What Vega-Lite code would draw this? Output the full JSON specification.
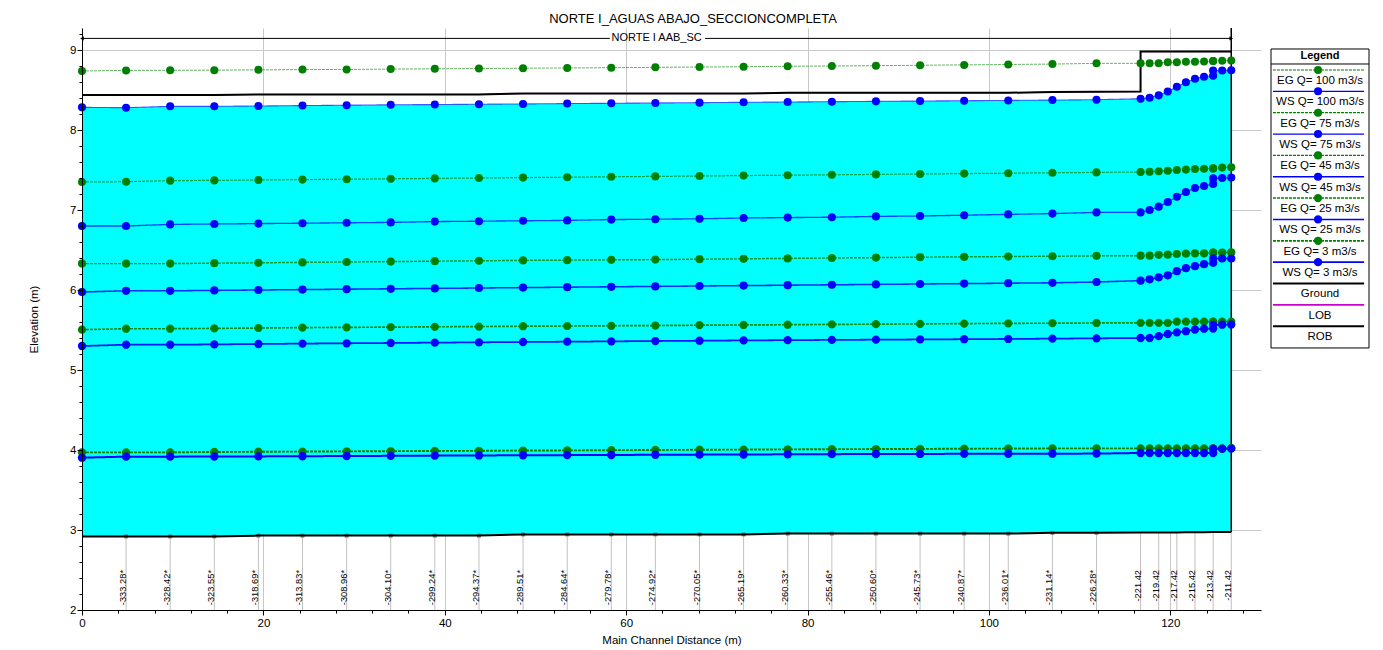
{
  "$schema": "https://vega.github.io/schema/vega-lite/v6.json",
  "padding": {"left": 28, "top": 13, "right": 0, "bottom": 0},
  "background": "white",
  "config": {"font": "Liberation Sans", "view": {"stroke": null}},
  "title": {"text": "NORTE I_AGUAS ABAJO_SECCIONCOMPLETA", "fontSize": 13, "fontWeight": "normal", "font": "Liberation Sans", "color": "black", "anchor": "middle", "offset": 1, "dx": -6},
  "spacing": 9,
  "datasets": {
    "xs": [
      {"i":0,"d":0,"lab":null,"interp":false,"ground":2.92,"eg100":8.738,"ws100":8.283,"eg75":7.35,"ws75":6.80,"eg45":6.33,"ws45":5.975,"eg25":5.504,"ws25":5.30,"eg3":3.971,"ws3":3.904},
      {"i":1,"d":4.86,"lab":"-333.28*","interp":true,"ground":2.92,"eg100":8.745,"ws100":8.279,"eg75":7.354,"ws75":6.80,"eg45":6.33,"ws45":5.99,"eg25":5.516,"ws25":5.316,"eg3":3.971,"ws3":3.917},
      {"i":2,"d":9.72,"lab":"-328.42*","interp":true,"ground":2.92,"eg100":8.746,"ws100":8.296,"eg75":7.367,"ws75":6.82,"eg45":6.33,"ws45":5.99,"eg25":5.516,"ws25":5.316,"eg3":3.971,"ws3":3.917},
      {"i":3,"d":14.59,"lab":"-323.55*","interp":true,"ground":2.92,"eg100":8.748,"ws100":8.296,"eg75":7.37,"ws75":6.825,"eg45":6.335,"ws45":5.995,"eg25":5.52,"ws25":5.32,"eg3":3.975,"ws3":3.918},
      {"i":4,"d":19.45,"lab":"-318.69*","interp":true,"ground":2.93,"eg100":8.752,"ws100":8.30,"eg75":7.375,"ws75":6.83,"eg45":6.34,"ws45":6.00,"eg25":5.525,"ws25":5.325,"eg3":3.978,"ws3":3.92},
      {"i":5,"d":24.31,"lab":"-313.83*","interp":true,"ground":2.93,"eg100":8.755,"ws100":8.305,"eg75":7.38,"ws75":6.835,"eg45":6.345,"ws45":6.005,"eg25":5.53,"ws25":5.33,"eg3":3.98,"ws3":3.922},
      {"i":6,"d":29.18,"lab":"-308.96*","interp":true,"ground":2.93,"eg100":8.757,"ws100":8.31,"eg75":7.385,"ws75":6.84,"eg45":6.35,"ws45":6.01,"eg25":5.533,"ws25":5.334,"eg3":3.983,"ws3":3.925},
      {"i":7,"d":34.04,"lab":"-304.10*","interp":true,"ground":2.93,"eg100":8.761,"ws100":8.315,"eg75":7.39,"ws75":6.845,"eg45":6.355,"ws45":6.015,"eg25":5.536,"ws25":5.338,"eg3":3.985,"ws3":3.927},
      {"i":8,"d":38.90,"lab":"-299.24*","interp":true,"ground":2.93,"eg100":8.765,"ws100":8.318,"eg75":7.395,"ws75":6.855,"eg45":6.36,"ws45":6.02,"eg25":5.54,"ws25":5.342,"eg3":3.988,"ws3":3.93},
      {"i":9,"d":43.77,"lab":"-294.37*","interp":true,"ground":2.93,"eg100":8.768,"ws100":8.322,"eg75":7.40,"ws75":6.86,"eg45":6.365,"ws45":6.025,"eg25":5.543,"ws25":5.346,"eg3":3.99,"ws3":3.932},
      {"i":10,"d":48.63,"lab":"-289.51*","interp":true,"ground":2.945,"eg100":8.772,"ws100":8.326,"eg75":7.405,"ws75":6.865,"eg45":6.37,"ws45":6.03,"eg25":5.547,"ws25":5.35,"eg3":3.993,"ws3":3.934},
      {"i":11,"d":53.50,"lab":"-284.64*","interp":true,"ground":2.945,"eg100":8.776,"ws100":8.33,"eg75":7.41,"ws75":6.87,"eg45":6.373,"ws45":6.035,"eg25":5.55,"ws25":5.354,"eg3":3.995,"ws3":3.936},
      {"i":12,"d":58.36,"lab":"-279.78*","interp":true,"ground":2.945,"eg100":8.779,"ws100":8.334,"eg75":7.415,"ws75":6.88,"eg45":6.377,"ws45":6.04,"eg25":5.553,"ws25":5.358,"eg3":3.998,"ws3":3.938},
      {"i":13,"d":63.22,"lab":"-274.92*","interp":true,"ground":2.945,"eg100":8.783,"ws100":8.338,"eg75":7.42,"ws75":6.885,"eg45":6.38,"ws45":6.045,"eg25":5.556,"ws25":5.362,"eg3":4.0,"ws3":3.94},
      {"i":14,"d":68.09,"lab":"-270.05*","interp":true,"ground":2.945,"eg100":8.787,"ws100":8.342,"eg75":7.425,"ws75":6.89,"eg45":6.385,"ws45":6.05,"eg25":5.56,"ws25":5.366,"eg3":4.003,"ws3":3.942},
      {"i":15,"d":72.95,"lab":"-265.19*","interp":true,"ground":2.945,"eg100":8.791,"ws100":8.346,"eg75":7.43,"ws75":6.90,"eg45":6.39,"ws45":6.055,"eg25":5.563,"ws25":5.37,"eg3":4.005,"ws3":3.944},
      {"i":16,"d":77.81,"lab":"-260.33*","interp":true,"ground":2.955,"eg100":8.796,"ws100":8.35,"eg75":7.435,"ws75":6.905,"eg45":6.395,"ws45":6.06,"eg25":5.566,"ws25":5.373,"eg3":4.008,"ws3":3.946},
      {"i":17,"d":82.68,"lab":"-255.46*","interp":true,"ground":2.955,"eg100":8.80,"ws100":8.354,"eg75":7.44,"ws75":6.91,"eg45":6.40,"ws45":6.065,"eg25":5.57,"ws25":5.376,"eg3":4.01,"ws3":3.948},
      {"i":18,"d":87.54,"lab":"-250.60*","interp":true,"ground":2.955,"eg100":8.804,"ws100":8.358,"eg75":7.445,"ws75":6.92,"eg45":6.405,"ws45":6.07,"eg25":5.573,"ws25":5.379,"eg3":4.012,"ws3":3.95},
      {"i":19,"d":92.41,"lab":"-245.73*","interp":true,"ground":2.955,"eg100":8.809,"ws100":8.362,"eg75":7.45,"ws75":6.925,"eg45":6.41,"ws45":6.075,"eg25":5.576,"ws25":5.382,"eg3":4.014,"ws3":3.951},
      {"i":20,"d":97.27,"lab":"-240.87*","interp":true,"ground":2.955,"eg100":8.814,"ws100":8.366,"eg75":7.455,"ws75":6.935,"eg45":6.414,"ws45":6.08,"eg25":5.58,"ws25":5.385,"eg3":4.016,"ws3":3.952},
      {"i":21,"d":102.13,"lab":"-236.01*","interp":true,"ground":2.955,"eg100":8.819,"ws100":8.37,"eg75":7.46,"ws75":6.945,"eg45":6.418,"ws45":6.085,"eg25":5.583,"ws25":5.388,"eg3":4.018,"ws3":3.953},
      {"i":22,"d":107.00,"lab":"-231.14*","interp":true,"ground":2.965,"eg100":8.824,"ws100":8.374,"eg75":7.465,"ws75":6.955,"eg45":6.422,"ws45":6.09,"eg25":5.585,"ws25":5.392,"eg3":4.02,"ws3":3.954},
      {"i":23,"d":111.86,"lab":"-226.28*","interp":true,"ground":2.965,"eg100":8.833,"ws100":8.379,"eg75":7.47,"ws75":6.97,"eg45":6.427,"ws45":6.10,"eg25":5.588,"ws25":5.396,"eg3":4.021,"ws3":3.955},
      {"i":24,"d":116.72,"lab":"-221.42","interp":false,"ground":2.97,"eg100":8.833,"ws100":8.391,"eg75":7.475,"ws75":6.97,"eg45":6.429,"ws45":6.117,"eg25":5.59,"ws25":5.40,"eg3":4.021,"ws3":3.963},
      {"i":25,"d":117.72,"lab":null,"interp":false,"ground":2.97,"eg100":8.833,"ws100":8.404,"eg75":7.477,"ws75":7.00,"eg45":6.429,"ws45":6.133,"eg25":5.59,"ws25":5.40,"eg3":4.021,"ws3":3.963},
      {"i":26,"d":118.72,"lab":"-219.42","interp":false,"ground":2.97,"eg100":8.835,"ws100":8.433,"eg75":7.485,"ws75":7.042,"eg45":6.44,"ws45":6.158,"eg25":5.59,"ws25":5.423,"eg3":4.021,"ws3":3.963},
      {"i":27,"d":119.72,"lab":null,"interp":false,"ground":2.97,"eg100":8.846,"ws100":8.481,"eg75":7.49,"ws75":7.10,"eg45":6.442,"ws45":6.183,"eg25":5.59,"ws25":5.45,"eg3":4.021,"ws3":3.963},
      {"i":28,"d":120.72,"lab":"-217.42","interp":false,"ground":2.97,"eg100":8.846,"ws100":8.541,"eg75":7.50,"ws75":7.165,"eg45":6.45,"ws45":6.235,"eg25":5.604,"ws25":5.471,"eg3":4.021,"ws3":3.963},
      {"i":29,"d":121.72,"lab":null,"interp":false,"ground":2.972,"eg100":8.852,"ws100":8.596,"eg75":7.505,"ws75":7.225,"eg45":6.456,"ws45":6.273,"eg25":5.604,"ws25":5.485,"eg3":4.021,"ws3":3.963},
      {"i":30,"d":122.72,"lab":"-215.42","interp":false,"ground":2.972,"eg100":8.854,"ws100":8.641,"eg75":7.512,"ws75":7.275,"eg45":6.458,"ws45":6.298,"eg25":5.604,"ws25":5.506,"eg3":4.021,"ws3":3.963},
      {"i":31,"d":123.72,"lab":null,"interp":false,"ground":2.972,"eg100":8.856,"ws100":8.666,"eg75":7.515,"ws75":7.30,"eg45":6.458,"ws45":6.323,"eg25":5.604,"ws25":5.516,"eg3":4.021,"ws3":3.963},
      {"i":32,"d":124.72,"lab":"-213.42","interp":false,"ground":2.975,"eg100":8.862,"ws100":8.679,"eg75":7.52,"ws75":7.325,"eg45":6.467,"ws45":6.34,"eg25":5.604,"ws25":5.518,"eg3":4.021,"ws3":3.963},
      {"i":33,"d":124.72,"lab":null,"interp":false,"ground":2.975,"eg100":8.862,"ws100":8.743,"eg75":7.52,"ws75":7.395,"eg45":6.467,"ws45":6.392,"eg25":5.604,"ws25":5.565,"eg3":4.021,"ws3":4.015},
      {"i":34,"d":125.72,"lab":null,"interp":false,"ground":2.975,"eg100":8.865,"ws100":8.745,"eg75":7.53,"ws75":7.40,"eg45":6.469,"ws45":6.394,"eg25":5.604,"ws25":5.566,"eg3":4.021,"ws3":4.015},
      {"i":35,"d":126.72,"lab":"-211.42","interp":false,"ground":2.975,"eg100":8.87,"ws100":8.746,"eg75":7.535,"ws75":7.405,"eg45":6.471,"ws45":6.394,"eg25":5.604,"ws25":5.568,"eg3":4.025,"ws3":4.017}
    ],
    "rob": [
      {"o":0,"d":0,"e":8.437},{"o":1,"d":14.59,"e":8.437},{"o":2,"d":19.45,"e":8.445},{"o":3,"d":43.77,"e":8.445},
      {"o":4,"d":48.63,"e":8.455},{"o":5,"d":72.95,"e":8.455},{"o":6,"d":77.81,"e":8.465},{"o":7,"d":102.13,"e":8.465},
      {"o":8,"d":107.0,"e":8.475},{"o":9,"d":116.72,"e":8.48},{"o":10,"d":116.72,"e":8.98},{"o":11,"d":126.72,"e":8.98}
    ],
    "reach": [{"x1":0,"x2":58.2},{"x1":68.7,"x2":126.72}],
    "ends": [{"d":0,"dir":"left"},{"d":126.72,"dir":"right"}],
    "leg": [
      {"k":0,"key":"eg100","label":"EG Q= 100 m3/s"},
      {"k":1,"key":"ws100","label":"WS Q= 100 m3/s"},
      {"k":2,"key":"eg75","label":"EG Q= 75 m3/s"},
      {"k":3,"key":"ws75","label":"WS Q= 75 m3/s"},
      {"k":4,"key":"eg45","label":"EG Q= 45 m3/s"},
      {"k":5,"key":"ws45","label":"WS Q= 45 m3/s"},
      {"k":6,"key":"eg25","label":"EG Q= 25 m3/s"},
      {"k":7,"key":"ws25","label":"WS Q= 25 m3/s"},
      {"k":8,"key":"eg3","label":"EG Q= 3 m3/s"},
      {"k":9,"key":"ws3","label":"WS Q= 3 m3/s"},
      {"k":10,"key":"ground","label":"Ground"},
      {"k":11,"key":"lob","label":"LOB"},
      {"k":12,"key":"rob","label":"ROB"}
    ]
  },
  "resolve": {"scale": {"color": "independent", "size": "independent", "strokeWidth": "independent", "strokeDash": "independent", "strokeOpacity": "independent", "x": "independent", "y": "independent", "shape": "independent"}},
  "hconcat": [
    {
      "width": 1179,
      "height": 582,
      "resolve": {"axis": {"x": "independent", "y": "independent"}},
      "layer": [
        {
          "data": {"name": "xs"},
          "mark": {"type": "rule", "strokeOpacity": 0},
          "encoding": {
            "x": {"field": "d", "type": "quantitative", "scale": {"domain": [0, 130], "nice": false, "zero": false},
              "axis": {"orient": "bottom", "values": [0,20,40,60,80,100,120], "grid": true, "gridColor": "#C8C8C8", "gridWidth": 1, "ticks": false, "labels": false, "domain": false, "title": null, "zindex": 0}},
            "y": {"field": "ground", "type": "quantitative", "scale": {"domain": [2, 9.275], "nice": false, "zero": false},
              "axis": {"orient": "left", "values": [2,3,4,5,6,7,8,9], "grid": true, "gridColor": "#C8C8C8", "gridWidth": 1, "ticks": false, "labels": false, "domain": false, "title": null, "zindex": 0}}
          }
        },
        {
          "data": {"name": "xs"},
          "mark": {"type": "area", "fill": "#00FFFF", "fillOpacity": 1},
          "encoding": {
            "x": {"field": "d", "type": "quantitative", "axis": null},
            "y": {"field": "ws100", "type": "quantitative", "axis": null},
            "y2": {"field": "ground"}
          }
        },
        {
          "data": {"name": "xs"},
          "transform": [{"filter": "datum.lab != null"}],
          "mark": {"type": "rule", "color": "#C0C0C0", "strokeWidth": 1},
          "encoding": {
            "x": {"field": "d", "type": "quantitative",
              "axis": {"orient": "bottom", "values": [0,4,8,12,16,20,24,28,32,36,40,44,48,52,56,60,64,68,72,76,80,84,88,92,96,100,104,108,112,116,120,124,128], "grid": false, "labels": false, "domain": false, "ticks": true, "tickSize": 3, "tickColor": "black", "title": null, "zindex": 1}},
            "y": {"field": "ground", "type": "quantitative",
              "axis": {"orient": "left", "values": [2,2.2,2.4,2.6,2.8,3,3.2,3.4,3.6,3.8,4,4.2,4.4,4.6,4.8,5,5.2,5.4,5.6,5.8,6,6.2,6.4,6.6,6.8,7,7.2,7.4,7.6,7.8,8,8.2,8.4,8.6,8.8,9,9.2], "grid": false, "labels": false, "domain": false, "ticks": true, "tickSize": 3, "tickColor": "black", "title": null, "zindex": 1}},
            "y2": {"datum": 2}
          }
        },
        {
          "data": {"name": "xs"},
          "transform": [{"filter": "datum.interp"}],
          "mark": {"type": "point", "shape": "square", "filled": true, "color": "#808080", "opacity": 1, "size": 16},
          "encoding": {
            "x": {"field": "d", "type": "quantitative", "axis": null},
            "y": {"field": "ground", "type": "quantitative", "axis": null}
          }
        },
        {
          "data": {"name": "xs"},
          "mark": {"type": "line", "color": "black", "strokeWidth": 2},
          "encoding": {
            "x": {"field": "d", "type": "quantitative",
              "axis": {"orient": "bottom", "values": [0,20,40,60,80,100,120], "grid": false, "domain": true, "domainColor": "black", "ticks": true, "tickSize": 5, "tickColor": "black", "labels": true, "labelColor": "black", "labelFontSize": 11.5, "labelPadding": 2, "labelFlush": false, "title": "Main Channel Distance (m)", "titleFontSize": 11.5, "titleFontWeight": "normal", "titleColor": "black", "titlePadding": 6, "zindex": 1}},
            "y": {"field": "ground", "type": "quantitative",
              "axis": {"orient": "left", "values": [2,3,4,5,6,7,8,9], "grid": false, "domain": true, "domainColor": "black", "ticks": true, "tickSize": 5, "tickColor": "black", "labels": true, "labelColor": "black", "labelFontSize": 11.5, "labelPadding": 1, "title": "Elevation (m)", "titleFontSize": 11.5, "titleFontWeight": "normal", "titleColor": "black", "titlePadding": 30, "zindex": 1}},
            "order": {"field": "i"}
          }
        },
        {
          "data": {"name": "rob"},
          "mark": {"type": "line", "color": "#CC00CC", "strokeWidth": 1},
          "encoding": {
            "x": {"field": "d", "type": "quantitative", "axis": null},
            "y": {"field": "e", "type": "quantitative", "axis": null},
            "order": {"field": "o"}
          }
        },
        {
          "data": {"name": "rob"},
          "mark": {"type": "line", "color": "black", "strokeWidth": 2},
          "encoding": {
            "x": {"field": "d", "type": "quantitative", "axis": null},
            "y": {"field": "e", "type": "quantitative", "axis": null},
            "order": {"field": "o"}
          }
        },
        {
          "data": {"name": "xs"},
          "transform": [{"filter": "datum.i == 35"}],
          "mark": {"type": "rule", "color": "black", "strokeWidth": 1.5},
          "encoding": {
            "x": {"field": "d", "type": "quantitative", "axis": null},
            "y": {"field": "ground", "type": "quantitative", "axis": null},
            "y2": {"datum": 9.275}
          }
        },
        {
          "data": {"name": "xs"},
          "transform": [{"fold": ["eg100","ws100","eg75","ws75","eg45","ws45","eg25","ws25","eg3","ws3"], "as": ["series", "elev"]}],
          "mark": {"type": "line"},
          "encoding": {
            "x": {"field": "d", "type": "quantitative", "axis": null},
            "y": {"field": "elev", "type": "quantitative", "axis": null},
            "color": {"field": "series", "type": "nominal", "legend": null,
              "scale": {"domain": ["eg100","ws100","eg75","ws75","eg45","ws45","eg25","ws25","eg3","ws3"],
                        "range": ["#008000","#0000FF","#008000","#0000FF","#008000","#0000FF","#008000","#0000FF","#008000","#0000FF"]}},
            "strokeWidth": {"field": "series", "type": "nominal", "legend": null,
              "scale": {"domain": ["eg100","ws100","eg75","ws75","eg45","ws45","eg25","ws25","eg3","ws3"],
                        "range": [1,2,1,2,1,2,1,2,1,2]}},
            "strokeOpacity": {"field": "series", "type": "nominal", "legend": null,
              "scale": {"domain": ["eg100","ws100","eg75","ws75","eg45","ws45","eg25","ws25","eg3","ws3"],
                        "range": [0.6,1,0.6,1,0.6,1,0.6,1,0.6,1]}},
            "strokeDash": {"field": "series", "type": "nominal", "legend": null,
              "scale": {"domain": ["eg100","ws100","eg75","ws75","eg45","ws45","eg25","ws25","eg3","ws3"],
                        "range": [[3,1],[1,0],[3,1],[1,0],[3,1],[1,0],[3,1],[1,0],[3,1],[1,0]]}},
            "order": {"field": "i"}
          }
        },
        {
          "data": {"name": "xs"},
          "transform": [{"fold": ["eg100","ws100","eg75","ws75","eg45","ws45","eg25","ws25","eg3","ws3"], "as": ["series", "elev"]}],
          "mark": {"type": "circle", "opacity": 1},
          "encoding": {
            "x": {"field": "d", "type": "quantitative", "axis": null},
            "y": {"field": "elev", "type": "quantitative", "axis": null},
            "color": {"field": "series", "type": "nominal", "legend": null,
              "scale": {"domain": ["eg100","ws100","eg75","ws75","eg45","ws45","eg25","ws25","eg3","ws3"],
                        "range": ["#008000","#0000FF","#008000","#0000FF","#008000","#0000FF","#008000","#0000FF","#008000","#0000FF"]}},
            "size": {"field": "series", "type": "nominal", "legend": null,
              "scale": {"domain": ["eg100","ws100","eg75","ws75","eg45","ws45","eg25","ws25","eg3","ws3"],
                        "range": [64,70,58,66,30,32,11,11,13,11]}}
          }
        },
        {
          "data": {"name": "reach"},
          "mark": {"type": "rule", "color": "black", "strokeWidth": 1},
          "encoding": {
            "x": {"field": "x1", "type": "quantitative", "axis": null},
            "x2": {"field": "x2"},
            "y": {"datum": 9.145, "type": "quantitative", "axis": null}
          }
        },
        {
          "data": {"name": "ends"},
          "mark": {"type": "point", "filled": true, "color": "black", "opacity": 1, "size": 18},
          "encoding": {
            "x": {"field": "d", "type": "quantitative", "axis": null},
            "y": {"datum": 9.145, "type": "quantitative", "axis": null},
            "shape": {"field": "dir", "type": "nominal", "legend": null, "scale": {"domain": ["left","right"], "range": ["triangle-left","triangle-right"]}}
          }
        },
        {
          "data": {"values": [{"name": "NORTE I AAB_SC", "mid": 63.36}]},
          "mark": {"type": "text", "fontSize": 11, "color": "black", "baseline": "middle", "align": "center"},
          "encoding": {
            "x": {"field": "mid", "type": "quantitative", "axis": null},
            "y": {"datum": 9.145, "type": "quantitative", "axis": null},
            "text": {"field": "name"}
          }
        },
        {
          "data": {"name": "xs"},
          "transform": [{"filter": "datum.lab != null"}],
          "mark": {"type": "text", "angle": 270, "align": "right", "baseline": "alphabetic", "fontSize": 9.3, "color": "black", "dy": 0},
          "encoding": {
            "x": {"field": "d", "type": "quantitative", "axis": null},
            "y": {"datum": 2.5, "type": "quantitative", "axis": null},
            "text": {"field": "lab"}
          }
        }
      ]
    },
    {
      "width": 98,
      "height": 582,
      "layer": [
        {
          "data": {"values": [{}]},
          "mark": {"type": "rect", "fill": "white", "stroke": "black", "strokeWidth": 1},
          "encoding": {
            "x": {"datum": 0, "type": "quantitative", "scale": {"domain": [0, 1], "nice": false, "zero": false}, "axis": null},
            "x2": {"datum": 1},
            "y": {"datum": -0.984, "type": "quantitative", "scale": {"domain": [-1.967, 25.293], "nice": false, "zero": false, "reverse": true}, "axis": null},
            "y2": {"datum": 13.02}
          }
        },
        {
          "data": {"values": [{}]},
          "mark": {"type": "rule", "color": "black", "strokeWidth": 1},
          "encoding": {
            "x": {"datum": 0, "type": "quantitative"},
            "x2": {"datum": 1},
            "y": {"datum": -0.281, "type": "quantitative"}
          }
        },
        {
          "data": {"values": [{"t": "Legend"}]},
          "mark": {"type": "text", "fontSize": 11, "fontWeight": "bold", "color": "black", "align": "center", "baseline": "middle"},
          "encoding": {
            "x": {"datum": 0.5, "type": "quantitative"},
            "y": {"datum": -0.656, "type": "quantitative"},
            "text": {"field": "t"}
          }
        },
        {
          "data": {"name": "leg"},
          "mark": {"type": "rule"},
          "encoding": {
            "x": {"datum": 0.02, "type": "quantitative"},
            "x2": {"datum": 0.95},
            "y": {"field": "k", "type": "quantitative"},
            "color": {"field": "key", "type": "nominal", "legend": null,
              "scale": {"domain": ["eg100","ws100","eg75","ws75","eg45","ws45","eg25","ws25","eg3","ws3","ground","lob","rob"],
                        "range": ["#008000","#0000FF","#008000","#0000FF","#008000","#0000FF","#008000","#0000FF","#008000","#0000FF","#000000","#CC00CC","#000000"]}},
            "strokeWidth": {"field": "key", "type": "nominal", "legend": null,
              "scale": {"domain": ["eg100","ws100","eg75","ws75","eg45","ws45","eg25","ws25","eg3","ws3","ground","lob","rob"],
                        "range": [1,2,1,2,1,2,1,2,1,2,2,1,2]}},
            "strokeDash": {"field": "key", "type": "nominal", "legend": null,
              "scale": {"domain": ["eg100","ws100","eg75","ws75","eg45","ws45","eg25","ws25","eg3","ws3","ground","lob","rob"],
                        "range": [[3,1],[1,0],[3,1],[1,0],[3,1],[1,0],[3,1],[1,0],[3,1],[1,0],[1,0],[1,0],[1,0]]}}
          }
        },
        {
          "data": {"name": "leg"},
          "transform": [{"filter": "datum.k < 10"}],
          "mark": {"type": "circle", "opacity": 1},
          "encoding": {
            "x": {"datum": 0.48, "type": "quantitative"},
            "y": {"field": "k", "type": "quantitative"},
            "color": {"field": "key", "type": "nominal", "legend": null,
              "scale": {"domain": ["eg100","ws100","eg75","ws75","eg45","ws45","eg25","ws25","eg3","ws3","ground","lob","rob"],
                        "range": ["#008000","#0000FF","#008000","#0000FF","#008000","#0000FF","#008000","#0000FF","#008000","#0000FF","#000000","#CC00CC","#000000"]}},
            "size": {"field": "key", "type": "nominal", "legend": null,
              "scale": {"domain": ["eg100","ws100","eg75","ws75","eg45","ws45","eg25","ws25","eg3","ws3"],
                        "range": [64,70,58,66,30,32,11,11,13,11]}}
          }
        },
        {
          "data": {"name": "leg"},
          "mark": {"type": "text", "fontSize": 11.5, "color": "black", "align": "center", "baseline": "middle", "dy": 11},
          "encoding": {
            "x": {"datum": 0.5, "type": "quantitative"},
            "y": {"field": "k", "type": "quantitative"},
            "text": {"field": "label"}
          }
        }
      ]
    }
  ]
}
